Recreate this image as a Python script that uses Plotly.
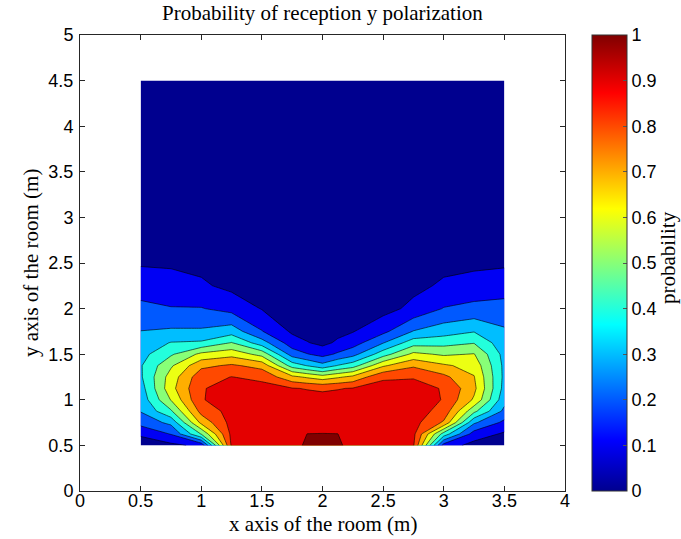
import plotly.graph_objects as go

# grid node positions (m)
x_nodes = [0.5, 0.75, 1.0, 1.25, 1.5, 1.75, 1.875, 2.0, 2.125, 2.25, 2.5, 2.75, 3.0, 3.25, 3.5]
y_nodes = [0.5, 0.625, 0.75, 0.875, 1.0, 1.125, 1.25, 1.375, 1.5, 1.625, 1.75, 2.0, 2.25, 2.5, 3.0, 4.5]

# probability read along each vertical cut x = const (bottom to top, matching y_nodes)
p_x050 = [0.04, 0.11, 0.23, 0.30, 0.33, 0.35, 0.38, 0.385, 0.36, 0.33, 0.297, 0.22, 0.15, 0.085, 0.04, 0.01]
p_x075 = [0.07, 0.20, 0.32, 0.48, 0.60, 0.66, 0.64, 0.58, 0.48, 0.40, 0.31, 0.20, 0.14, 0.08, 0.04, 0.01]
p_x100 = [0.12, 0.50, 0.72, 0.83, 0.89, 0.89, 0.86, 0.77, 0.62, 0.41, 0.31, 0.20, 0.11, 0.07, 0.03, 0.01]
p_x125 = [0.91, 0.92, 0.93, 0.93, 0.93, 0.92, 0.897, 0.81, 0.66, 0.50, 0.35, 0.16, 0.07, 0.05, 0.03, 0.01]
p_x150 = [0.93, 0.94, 0.94, 0.94, 0.94, 0.93, 0.87, 0.76, 0.56, 0.34, 0.20, 0.09, 0.05, 0.03, 0.02, 0.01]
p_x175 = [0.985, 0.96, 0.95, 0.94, 0.93, 0.90, 0.72, 0.45, 0.25, 0.14, 0.08, 0.05, 0.03, 0.02, 0.02, 0.01]
p_x1875 = [1.0, 0.996, 0.955, 0.94, 0.93, 0.89, 0.68, 0.39, 0.20, 0.10, 0.06, 0.04, 0.03, 0.02, 0.01, 0.01]
p_x200 = [1.0, 0.997, 0.96, 0.94, 0.93, 0.88, 0.64, 0.33, 0.16, 0.07, 0.05, 0.03, 0.02, 0.02, 0.01, 0.01]
p_x2125 = [1.0, 0.996, 0.955, 0.94, 0.93, 0.89, 0.68, 0.40, 0.21, 0.11, 0.07, 0.04, 0.03, 0.02, 0.01, 0.01]
p_x225 = [0.985, 0.96, 0.95, 0.94, 0.93, 0.90, 0.72, 0.45, 0.26, 0.15, 0.09, 0.05, 0.03, 0.02, 0.02, 0.01]
p_x250 = [0.93, 0.94, 0.94, 0.94, 0.94, 0.93, 0.88, 0.68, 0.45, 0.29, 0.17, 0.06, 0.04, 0.03, 0.02, 0.01]
p_x275 = [0.905, 0.92, 0.93, 0.94, 0.94, 0.92, 0.89, 0.78, 0.62, 0.45, 0.30, 0.12, 0.07, 0.05, 0.03, 0.01]
p_x300 = [0.15, 0.45, 0.78, 0.86, 0.89, 0.89, 0.82, 0.71, 0.58, 0.46, 0.35, 0.20, 0.11, 0.07, 0.03, 0.01]
p_x325 = [0.06, 0.15, 0.31, 0.52, 0.68, 0.72, 0.70, 0.66, 0.60, 0.49, 0.39, 0.22, 0.14, 0.07, 0.04, 0.01]
p_x350 = [0.03, 0.08, 0.17, 0.27, 0.33, 0.36, 0.37, 0.37, 0.36, 0.33, 0.31, 0.23, 0.15, 0.08, 0.04, 0.01]

columns = [p_x050, p_x075, p_x100, p_x125, p_x150, p_x175, p_x1875, p_x200,
           p_x2125, p_x225, p_x250, p_x275, p_x300, p_x325, p_x350]
z = [list(row) for row in zip(*columns)]  # rows follow y_nodes

cbar_ticks = [0, 0.1, 0.2, 0.3, 0.4, 0.5, 0.6, 0.7, 0.8, 0.9, 1]
cbar_labels = ["0", "0.1", "0.2", "0.3", "0.4", "0.5", "0.6", "0.7", "0.8", "0.9", "1"]

jet = [
    [0.0, "rgb(0,0,143)"],
    [0.111, "rgb(0,0,255)"],
    [0.365, "rgb(0,255,255)"],
    [0.619, "rgb(255,255,0)"],
    [0.873, "rgb(255,0,0)"],
    [1.0, "rgb(128,0,0)"],
]

SERIF = "Liberation Serif, Times New Roman, serif"
SANS = "Liberation Sans, Arial, sans-serif"

W, H = 681, 539
# plot area in pixels: x 80..565, y 35..491
PL, PR, PT, PB = 80, 565, 35, 491
PW, PH = PR - PL, PB - PT


def px(xp):
    return (xp - PL) / PW


def py(yp):
    return (PB - yp) / PH


fig = go.Figure()
fig.add_trace(go.Contour(
    x=x_nodes, y=y_nodes, z=z,
    colorscale=jet,
    autocontour=False,
    contours=dict(start=0.095, end=0.995, size=0.1, coloring="fill", showlines=True),
    line=dict(color="rgba(0,0,0,0.85)", width=0.7, smoothing=0),
    showscale=False,
    hoverinfo="skip",
))

# continuous colour bar (0..1)
fig.add_trace(go.Scatter(
    x=[-5], y=[-5], mode="markers", showlegend=False, hoverinfo="skip",
    marker=dict(size=1, color=[0.5], cmin=0, cmax=1, colorscale=jet, showscale=True,
                colorbar=dict(
                    x=px(592), xanchor="left", y=0.5, yanchor="middle",
                    len=1, lenmode="fraction", thickness=35, thicknessmode="pixels",
                    xpad=0, ypad=0, outlinewidth=1, outlinecolor="#333333",
                    ticks="inside", ticklen=4, tickcolor="#555555",
                    tickvals=cbar_ticks, ticktext=cbar_labels,
                    tickfont=dict(family=SANS, size=18, color="black"),
                )),
))

axis_common = dict(
    ticks="inside", ticklen=5, tickcolor="#262626", showline=True,
    linecolor="#262626", linewidth=1, mirror="ticks", showgrid=False,
    zeroline=False, tickfont=dict(family=SANS, size=18, color="black"),
)

fig.update_layout(
    width=W, height=H,
    margin=dict(l=PL, r=W - PR, t=PT, b=H - PB, autoexpand=False),
    paper_bgcolor="white", plot_bgcolor="white",
    xaxis=dict(range=[0, 4], tick0=0, dtick=0.5, ticklabelstandoff=-7, **axis_common),
    yaxis=dict(range=[0, 5], tick0=0, dtick=0.5, ticklabelstandoff=2, **axis_common),
    annotations=[
        dict(text="Probability of reception y polarization", x=0.5, y=py(13),
             xref="paper", yref="paper", showarrow=False, xanchor="center", yanchor="middle",
             font=dict(family=SERIF, size=21, color="black")),
        dict(text="x axis of the room (m)", x=0.5, y=py(524),
             xref="paper", yref="paper", showarrow=False, xanchor="center", yanchor="middle",
             font=dict(family=SERIF, size=21, color="black")),
        dict(text="y axis of the room (m)", x=px(31), y=py(263),
             xref="paper", yref="paper", showarrow=False, xanchor="center", yanchor="middle",
             textangle=-90, font=dict(family=SERIF, size=21, color="black")),
        dict(text="probability", x=px(668), y=py(258),
             xref="paper", yref="paper", showarrow=False, xanchor="center", yanchor="middle",
             textangle=-90, font=dict(family=SERIF, size=21, color="black")),
    ],
)

# the page body gets no margin so the 681x539 figure fills the window exactly
fig.write_html("out.html", config={"displayModeBar": False},
               post_script="document.body.style.margin='0px';")
